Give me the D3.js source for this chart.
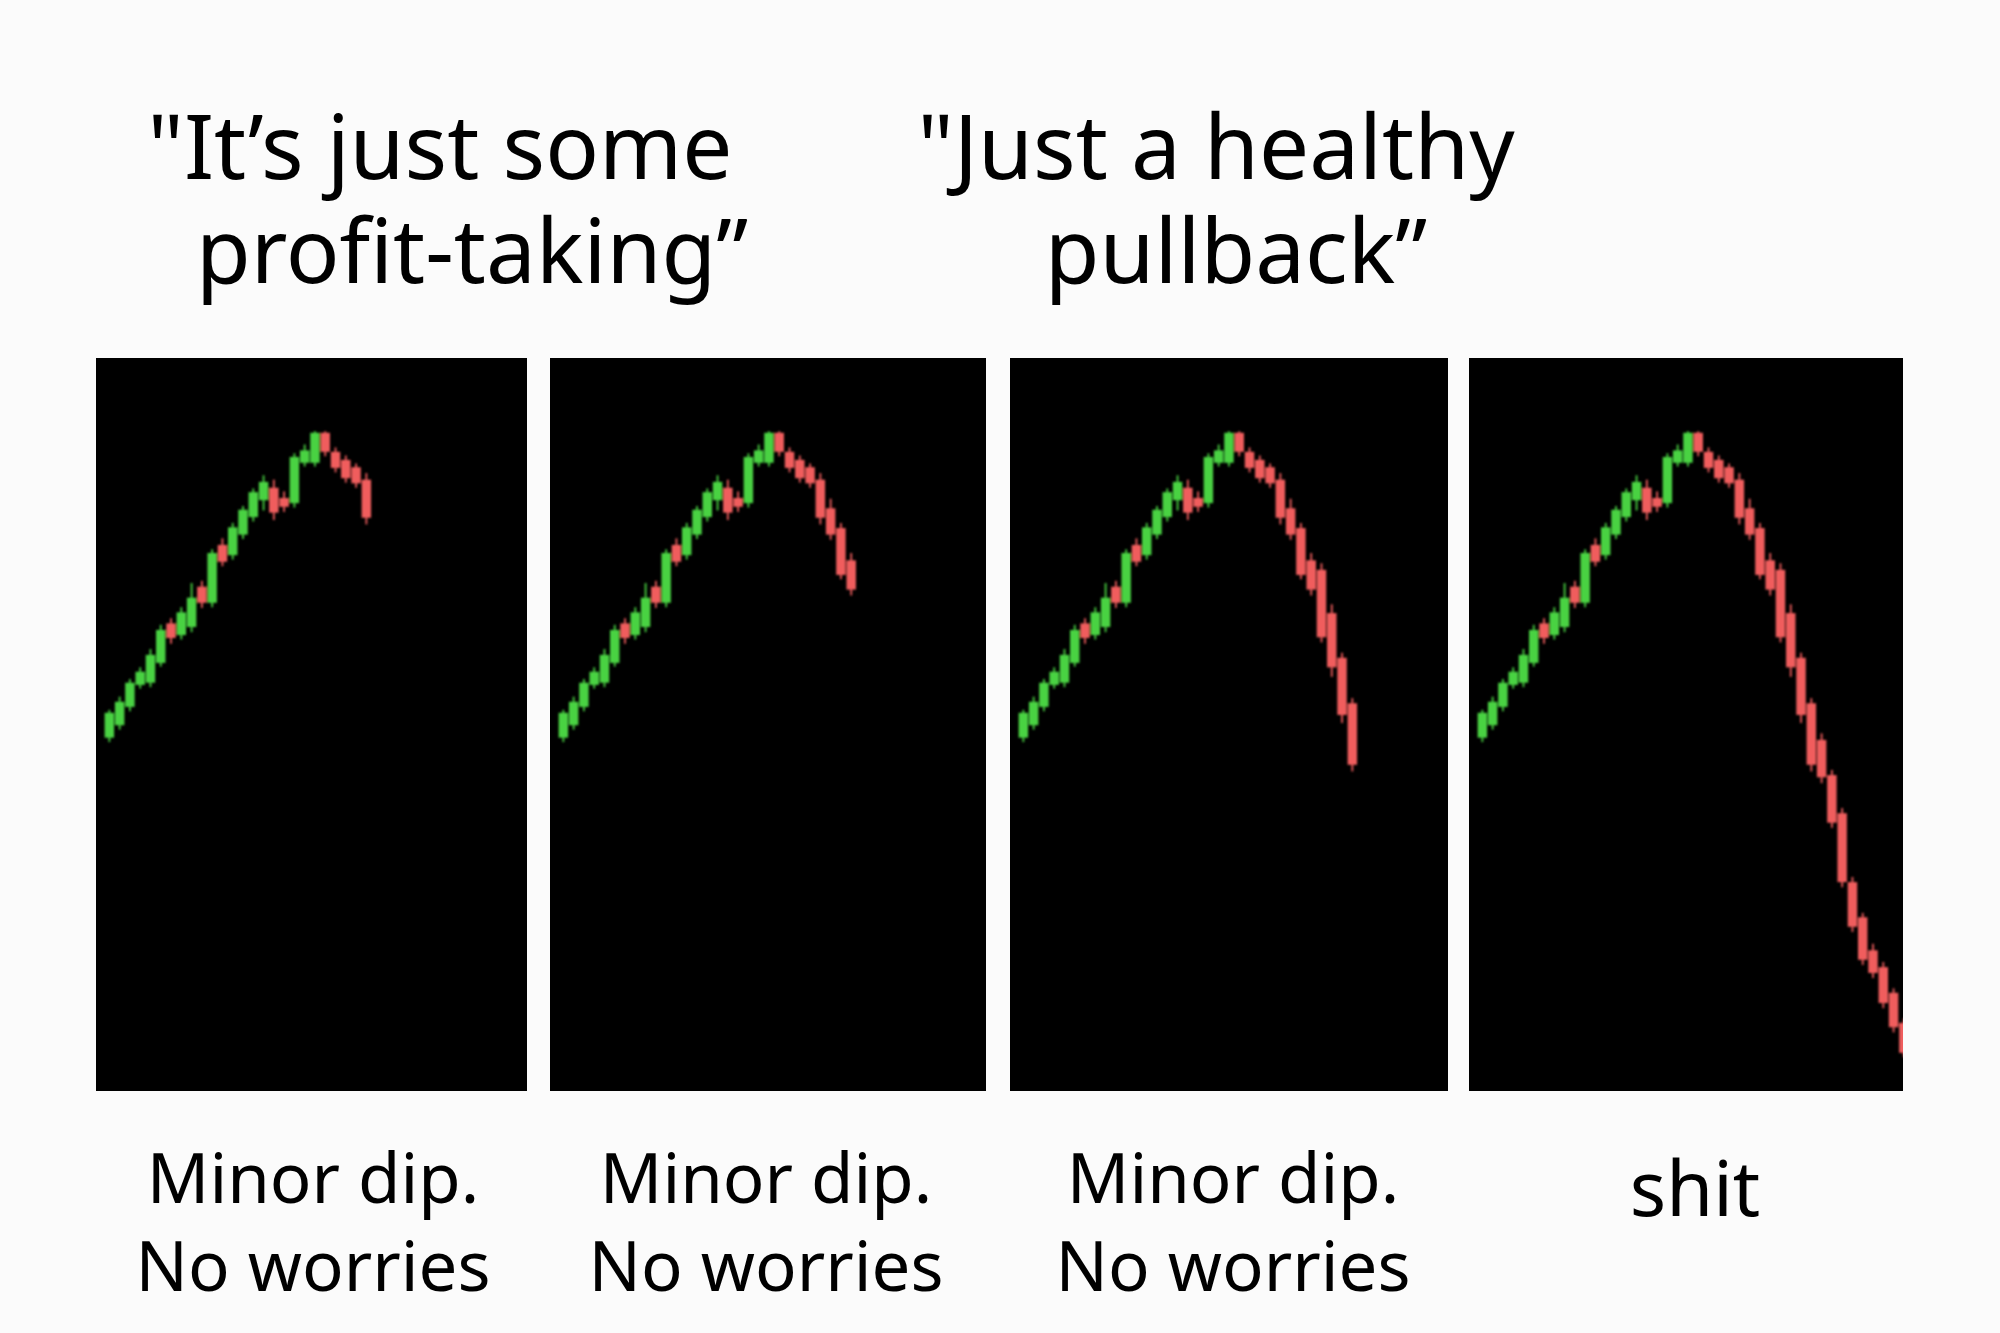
<!DOCTYPE html>
<html>
<head>
<meta charset="utf-8">
<script src="https://cdn.jsdelivr.net/npm/d3@7"></script>
<style>
    body { margin: 0; background: #fbfbfb; }
    text { font-family: "Noto Sans", "Open Sans", sans-serif; fill: #000; }
</style>
</head>
<body>
<div id="chart"></div>
<script>
// candle data, shared by all four panels (price units 0-100)
var opens = [48.2, 49.9, 52.4, 55.4, 55.7, 58.4, 63.8, 62.2, 63.3, 68.8, 66.6, 74.5, 73.1, 75.9, 78.3, 80.6, 82.3, 80.9, 80.2, 85.7, 85.7,
    89.8, 87.2, 86.1, 85.1, 83.4, 79.5, 76.8, 72.4, 71.1, 65.2, 59.1, 52.9, 47.9, 43.1, 37.9, 28.5, 23.7, 19.2, 16.9, 13.4, 9.3];
var closes = [51.6, 53.1, 55.7, 57.2, 59.5, 62.9, 61.8, 65.3, 67.3, 66.6, 73.4, 72.2, 76.9, 79.3, 81.7, 83.1, 78.9, 79.7, 86.5, 87.4, 89.8,
    87.2, 85.0, 83.6, 82.9, 78.2, 75.9, 70.4, 68.4, 61.9, 57.8, 51.3, 44.5, 42.8, 36.6, 28.5, 22.4, 17.9, 16.1, 12.0, 8.7, 5.2];
var highs = [52.0, 53.8, 56.2, 57.8, 60.3, 63.6, 64.5, 66.0, 69.3, 69.6, 73.9, 75.4, 77.5, 79.8, 82.2, 84.0, 83.4, 81.8, 87.0, 88.2, 90.0,
    90.0, 87.8, 86.7, 85.6, 84.3, 80.8, 77.5, 73.4, 72.0, 66.4, 59.8, 53.6, 48.8, 43.8, 38.6, 29.2, 24.3, 20.1, 17.6, 14.0, 9.9];
var lows = [47.6, 49.3, 51.8, 54.9, 55.1, 57.9, 61.0, 61.6, 62.6, 65.9, 66.0, 71.6, 72.5, 75.3, 77.7, 79.2, 77.9, 79.0, 79.6, 85.2, 85.2,
    86.6, 84.4, 83.0, 82.3, 77.3, 75.2, 69.8, 67.6, 61.2, 56.5, 50.2, 43.6, 42.0, 35.9, 27.8, 21.7, 17.2, 15.4, 11.3, 8.0, 4.6];

// how many candles each panel shows
var shownCandles = [26, 29, 33, 42];

var titleLines = [
    ["\"It\u2019s just some", "profit-taking\u201d"],
    ["\"Just a healthy", "pullback\u201d"]
];
var captionLines = [
    ["Minor dip.", "No worries"],
    ["Minor dip.", "No worries"],
    ["Minor dip.", "No worries"],
    ["shit"]
];

var candles = opens.map(function (o, i) {
    return { i: i, open: o, close: closes[i], high: highs[i], low: lows[i] };
});

var width = 2000, height = 1333;
var panels = [
    { x: 96, w: 431, cx: 313 },
    { x: 550, w: 436, cx: 766 },
    { x: 1010, w: 438, cx: 1233 },
    { x: 1469, w: 434, cx: 1695 }
];
var panelTop = 358, panelH = 733;

var svg = d3.select("#chart").append("svg")
    .attr("width", width)
    .attr("height", height);

svg.append("rect")
    .attr("width", width)
    .attr("height", height)
    .attr("fill", "#fbfbfb");

var defs = svg.append("defs");
defs.append("filter")
    .attr("id", "soft")
    .append("feGaussianBlur")
    .attr("stdDeviation", 1.0);

var x_scale = d3.scaleBand()
    .domain(d3.range(candles.length))
    .range([7.8, 7.8 + 42 * 10.3])
    .padding(0.08);

var y_scale = d3.scaleLinear()
    .domain([0, 100])
    .range([panelH, 0]);

var up = "#48d242", down = "#f05d5d";

panels.forEach(function (p, k) {
    defs.append("clipPath")
        .attr("id", "clip" + k)
        .append("rect")
        .attr("width", p.w)
        .attr("height", panelH);

    var g = svg.append("g")
        .attr("transform", "translate(" + p.x + "," + panelTop + ")");

    g.append("rect")
        .attr("width", p.w)
        .attr("height", panelH)
        .attr("fill", "#000");

    var data = candles.slice(0, shownCandles[k]);
    var c = g.append("g")
        .attr("clip-path", "url(#clip" + k + ")")
        .append("g")
        .attr("filter", "url(#soft)");

    var candle = c.selectAll(".candle")
        .data(data)
        .enter().append("g")
        .attr("class", "candle")
        .attr("fill", function (d) { return d.close >= d.open ? up : down; })
        .attr("stroke", function (d) { return d.close >= d.open ? up : down; });

    candle.append("line")
        .attr("x1", function (d) { return x_scale(d.i) + x_scale.bandwidth() / 2; })
        .attr("x2", function (d) { return x_scale(d.i) + x_scale.bandwidth() / 2; })
        .attr("y1", function (d) { return y_scale(d.high); })
        .attr("y2", function (d) { return y_scale(d.low); })
        .attr("stroke-width", 1.8);

    candle.append("rect")
        .attr("x", function (d) { return x_scale(d.i); })
        .attr("width", x_scale.bandwidth())
        .attr("y", function (d) { return y_scale(Math.max(d.open, d.close)); })
        .attr("height", function (d) { return Math.max(3, Math.abs(y_scale(d.open) - y_scale(d.close))); })
        .attr("stroke", "none");

    // caption under each panel
    var single = captionLines[k].length == 1;
    svg.append("text")
        .attr("y", single ? 1216 : 1203)
        .attr("text-anchor", "middle")
        .style("font-size", single ? "76px" : "69px")
        .selectAll("tspan")
        .data(captionLines[k])
        .enter().append("tspan")
        .attr("x", p.cx)
        .attr("dy", function (d, i) { return i ? 88 : 0; })
        .text(function (d) { return d; });
});

// the two quotes on top
var titleX = [[440, 472], [1216, 1236]];
titleLines.forEach(function (lines, k) {
    svg.append("text")
        .attr("text-anchor", "middle")
        .style("font-size", "89px")
        .selectAll("tspan")
        .data(lines)
        .enter().append("tspan")
        .attr("x", function (d, i) { return titleX[k][i]; })
        .attr("y", function (d, i) { return i ? 283 : 179; })
        .text(function (d) { return d; });
});
</script>
</body>
</html>
